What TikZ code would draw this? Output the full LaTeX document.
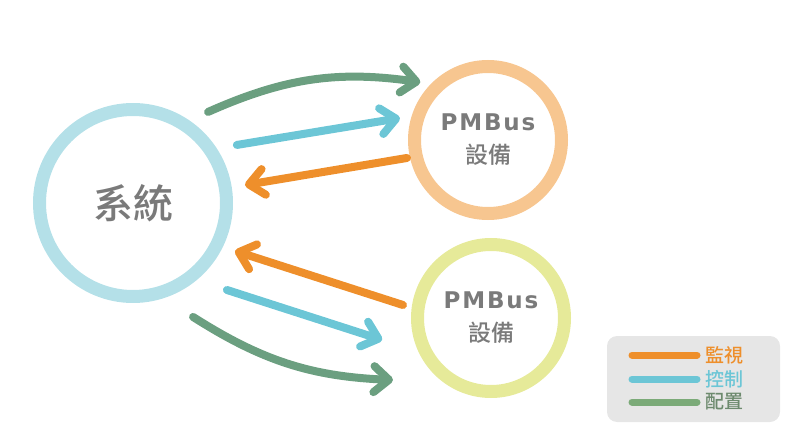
\documentclass[tikz,border=0pt]{standalone}
\usepackage{fontspec}
\newfontfamily\cjk{Noto Sans CJK TC Medium}
\newfontfamily\busfont{DejaVu Sans}[LetterSpace=8]
\usetikzlibrary{arrows.meta, positioning, calc}

\definecolor{sysblue}{HTML}{B4E0E8}
\definecolor{devpeach}{HTML}{F7C690}
\definecolor{devlime}{HTML}{E6EA99}
\definecolor{cfggreen}{HTML}{6B9F80}
\definecolor{ctlblue}{HTML}{6CC6D6}
\definecolor{monorange}{HTML}{EE8F2B}
\definecolor{txtgray}{HTML}{7A7A7A}
\definecolor{keygray}{HTML}{E6E6E6}
\definecolor{keygreen}{HTML}{7BAA78}
\definecolor{keytxtgreen}{HTML}{6D8A6E}

\newcommand{\devlabel}{{\busfont\bfseries\fontsize{23}{23}\selectfont PMBus}\\設備}

\begin{document}
\begin{tikzpicture}[x=1pt, y=1pt,
    ring/.style={circle, line width=13pt, text=txtgray, align=center},
    devtext/.style={font=\cjk\fontsize{23}{33}\selectfont},
    arrow/.style={-{Straight Barb[length=15pt, width=26pt, round]}, line width=8pt, line cap=round},
    key/.style={line width=7pt, line cap=round},
    keytext/.style={anchor=west, inner sep=0pt, font=\cjk\fontsize{19}{19}\selectfont}
]
\useasboundingbox (0,0) rectangle (800,445);

% Circles
\node[ring, draw=sysblue, minimum size=187pt, font=\cjk\fontsize{40}{40}\selectfont] (sys) at (133,242) {系統};
\node[ring, draw=devpeach, minimum size=147pt, devtext] (dev1) at (488,305) {\devlabel};
\node[ring, draw=devlime, minimum size=147pt, devtext] (dev2) at (491,127) {\devlabel};

% Upper device
\draw[arrow, cfggreen] ($(sys.center)+(50.5:118)$) to[bend left=16] ($(dev1.center)+(139.5:89)$);
\draw[arrow, ctlblue] ($(sys.center)+(29.2:119)$) -- ($(dev1.center)+(166:90.7)$);
\draw[arrow, monorange] ($(dev1.center)+(192.5:83)$) -- ($(sys.center)+(9.1:113.4)$);

% Lower device
\draw[arrow, monorange] ($(dev2.center)+(171.6:89)$) -- ($(sys.center)+(-25.2:112.7)$);
\draw[arrow, ctlblue] ($(sys.center)+(-42.8:128)$) -- ($(dev2.center)+(191.4:111)$);
\draw[arrow, cfggreen] ($(sys.center)+(-62.2:128.8)$) to[bend right=15] ($(dev2.center)+(212.3:116)$);

% Legend
\node[fill=keygray, rounded corners=10pt, minimum width=173pt, minimum height=86pt] (legend) at (693.5,66) {};
\draw[key, monorange] (632,90) -- (697,90);
\draw[key, ctlblue] (632,66) -- (697,66);
\draw[key, keygreen] (632,43) -- (697,43);
\node[keytext, text=monorange] (mon) at (705,90) {監視};
\node[keytext, text=ctlblue] (ctl) at (705,66) {控制};
\node[keytext, text=keytxtgreen] (cfg) at (705,43) {配置};

\end{tikzpicture}
\end{document}
